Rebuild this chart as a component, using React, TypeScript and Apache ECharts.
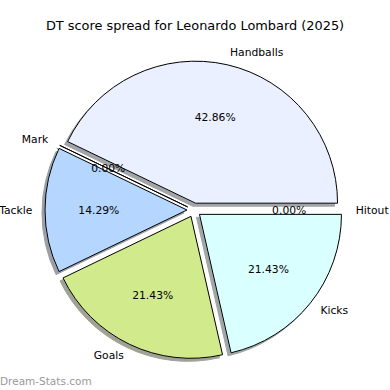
import { useEffect, useRef } from 'react';
import * as echarts from 'echarts';

const chartTitle = 'DT score spread for Leonardo Lombard (2025)';
const watermark = 'Dream-Stats.com';
const categories = ['Hitout', 'Handballs', 'Mark', 'Tackle', 'Goals', 'Kicks'];
const values = [0, 6, 0, 2, 3, 3];
const colors = ['#FFE4C4', '#EAF0FF', '#E8D8FF', '#B4D6FF', '#D1EA8C', '#D9FFFF'];

const FONT = 'DejaVu Sans';
const CENTER = [194, 210];
const R = 142;
const EXPLODE = 7;

function shadowOf(hex: string) {
  const n = parseInt(hex.slice(1), 16);
  const r = Math.round(((n >> 16) & 255) * 0.3);
  const g = Math.round(((n >> 8) & 255) * 0.3);
  const b = Math.round((n & 255) * 0.3);
  return `rgba(${r},${g},${b},0.5)`;
}

export default function App() {
  const ref = useRef<HTMLDivElement>(null);
  useEffect(() => {
    const chart = echarts.init(ref.current!, null, { renderer: 'svg' });
    const total = values.reduce((a, b) => a + b, 0);
    const wedgeStyle = (i: number) => ({
      color: colors[i],
      borderColor: '#000',
      borderWidth: 1,
      shadowColor: shadowOf(colors[i]),
      shadowOffsetX: -3,
      shadowOffsetY: 3,
      shadowBlur: 0,
    });
    const invisible = { color: 'rgba(0,0,0,0)', borderWidth: 0 };
    chart.setOption({
      animation: false,
      backgroundColor: '#ffffff',
      title: {
        text: chartTitle,
        left: 'center',
        top: 19,
        padding: 0,
        textStyle: { fontFamily: FONT, fontSize: 12.9, fontWeight: 'normal', color: '#000' },
      },
      graphic: [
        {
          type: 'text',
          left: 0,
          top: 375,
          style: { text: watermark, fontFamily: FONT, fontSize: 10.5, fill: '#999999' },
        },
      ],
      series: [
        {
          type: 'pie',
          center: CENTER,
          radius: R,
          startAngle: 0,
          clockwise: false,
          selectedMode: 'multiple',
          selectedOffset: EXPLODE,
          avoidLabelOverlap: false,
          label: { show: false },
          labelLine: { show: false },
          emphasis: { disabled: true },
          data: categories.map((name, i) => ({
            name,
            value: values[i],
            selected: true,
            itemStyle: wedgeStyle(i),
            select: { itemStyle: wedgeStyle(i) },
          })),
        },
        {
          type: 'pie',
          silent: true,
          center: CENTER,
          radius: 2 * (0.6 * R + EXPLODE),
          startAngle: 0,
          clockwise: false,
          avoidLabelOverlap: false,
          itemStyle: invisible,
          emphasis: { disabled: true },
          label: {
            show: true,
            position: 'inside',
            rotate: 0,
            overflow: 'none',
            fontFamily: FONT,
            fontSize: 10.75,
            color: '#000',
            formatter: (p: any) => ((p.value / total) * 100).toFixed(2) + '%',
          },
          labelLine: { show: false },
          data: categories.map((name, i) => ({ name, value: values[i] })),
        },
        {
          type: 'pie',
          silent: true,
          center: CENTER,
          radius: 60,
          startAngle: 0,
          clockwise: false,
          avoidLabelOverlap: false,
          itemStyle: invisible,
          emphasis: { disabled: true },
          label: {
            show: true,
            position: 'outside',
            alignTo: 'none',
            distanceToLabelLine: 0,
            overflow: 'none',
            fontFamily: FONT,
            fontSize: 10.75,
            color: '#000',
            formatter: '{b}',
          },
          labelLine: { show: false, length: 1.1 * R + EXPLODE - 60 - 1.5, length2: 0 },
          data: categories.map((name, i) => ({ name, value: values[i] })),
        },
      ],
    });
    return () => chart.dispose();
  }, []);
  return <div ref={ref} style={{ position: 'absolute', left: 0, top: 0, width: 390, height: 390 }} />;
}
